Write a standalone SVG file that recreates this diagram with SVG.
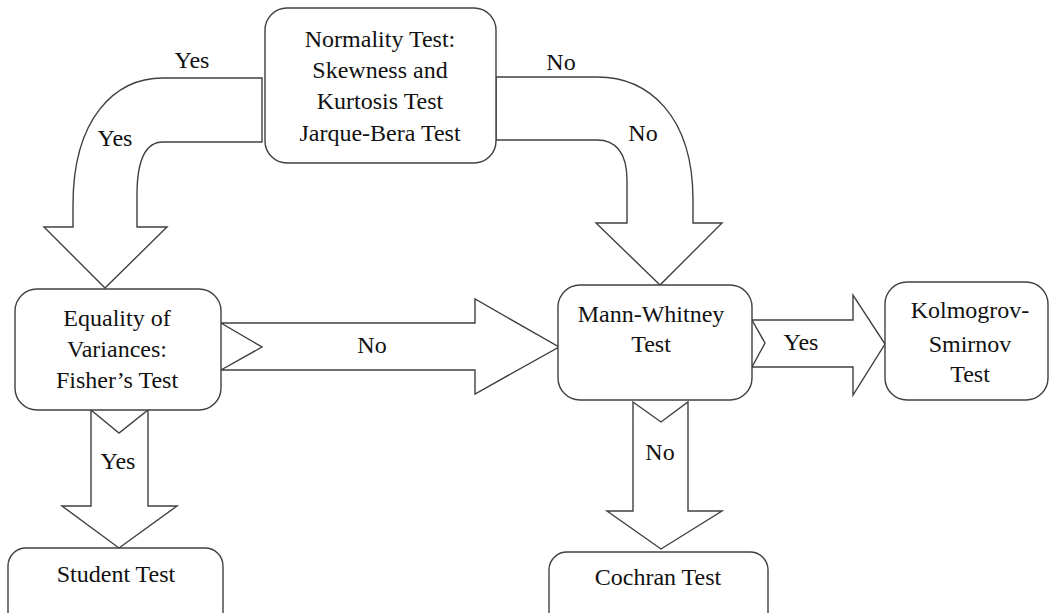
<svg xmlns="http://www.w3.org/2000/svg" width="1049" height="613" viewBox="0 0 1049 613">
<style>
.box{fill:#fff;stroke:#404040;stroke-width:1.4}
.arr{fill:#fff;stroke:#404040;stroke-width:1.4;stroke-linejoin:miter}
.t{font-size:24px;fill:#111;text-anchor:middle}
</style>
<rect width="1049" height="613" fill="#fff"/>
<g id="connectors">
<path class="arr" d="M262,78 H163 C115,78 73,118 73,205 V227 H44 L105,288 L167,227 H137 V195 C137,156 148,142 163,142 H262 Z"/>
<path class="arr" d="M496,77 H597 C648,77 693,115 693,200 V223 H722 L660,285 L596,223 H627 V180 C627,152 615,140 597,140 H496 Z"/>
<path class="arr" d="M221,323 H475 V299 L559,347 L475,394 V370 H221 L262,347 Z"/>
<path class="arr" d="M752,320 H853 V295 L885,344 L853,395 V367 H752 L765,343 Z"/>
<path class="arr" d="M91,410 L119,433 L148,410 V506 H177 L119,548 L62,506 H91 Z"/>
<path class="arr" d="M633,402 L661,422 L688,402 V511 H722 L661,549 L607,511 H633 Z"/>
<g class="t" font-family="'Liberation Serif', 'Times New Roman', 'DejaVu Serif', serif">
<text x="192" y="68">Yes</text>
<text x="115" y="146">Yes</text>
<text x="561" y="70">No</text>
<text x="643" y="141">No</text>
<text x="372" y="353">No</text>
<text x="801" y="350">Yes</text>
<text x="118" y="469">Yes</text>
<text x="660" y="460">No</text>
</g>
</g>
<g id="normality">
<rect class="box" x="265" y="8" width="231" height="155" rx="22"/>
<g class="t" font-family="'Liberation Serif', 'Times New Roman', 'DejaVu Serif', serif">
<text x="380" y="47">Normality Test:</text>
<text x="380" y="78">Skewness and</text>
<text x="380" y="109">Kurtosis Test</text>
<text x="380" y="141">Jarque-Bera Test</text>
</g>
</g>
<g id="equality">
<rect class="box" x="15" y="289" width="206" height="121" rx="22"/>
<g class="t" font-family="'Liberation Serif', 'Times New Roman', 'DejaVu Serif', serif">
<text x="117" y="326">Equality of</text>
<text x="117" y="357">Variances:</text>
<text x="117" y="388">Fisher’s Test</text>
</g>
</g>
<g id="mannwhitney">
<rect class="box" x="558" y="285" width="194" height="115" rx="22"/>
<g class="t" font-family="'Liberation Serif', 'Times New Roman', 'DejaVu Serif', serif">
<text x="651" y="322">Mann-Whitney</text>
<text x="651" y="352">Test</text>
</g>
</g>
<g id="kolmogorov">
<rect class="box" x="885" y="282" width="163" height="118" rx="22"/>
<g class="t" font-family="'Liberation Serif', 'Times New Roman', 'DejaVu Serif', serif">
<text x="970" y="318">Kolmogrov-</text>
<text x="970" y="352">Smirnov</text>
<text x="970" y="382">Test</text>
</g>
</g>
<g id="student">
<rect class="box" x="8" y="548" width="215" height="85" rx="18"/>
<text class="t" font-family="'Liberation Serif', 'Times New Roman', 'DejaVu Serif', serif" x="116" y="582">Student Test</text>
</g>
<g id="cochran">
<rect class="box" x="549" y="552" width="219" height="85" rx="18"/>
<text class="t" font-family="'Liberation Serif', 'Times New Roman', 'DejaVu Serif', serif" x="658" y="585">Cochran Test</text>
</g>
</svg>
